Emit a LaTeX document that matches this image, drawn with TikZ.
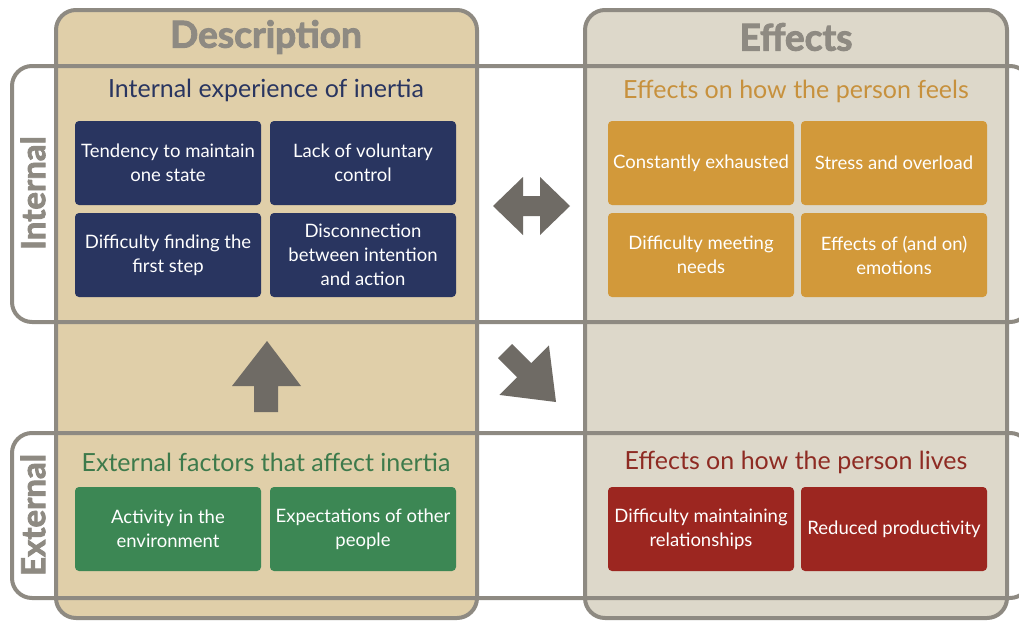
\documentclass[tikz,border=0pt]{standalone}
\usepackage{fontspec}
\setmainfont{Lato}
\newfontfamily\heavyfont[FakeBold=2.5]{Lato}
\begin{document}
\begin{tikzpicture}[x=1pt,y=-1pt]
\definecolor{frame}{HTML}{8E8A82}
\definecolor{descfill}{HTML}{E0CFA9}
\definecolor{efffill}{HTML}{DDD8CA}
\definecolor{navy}{HTML}{293560}
\definecolor{gold}{HTML}{D2993A}
\definecolor{goldtxt}{HTML}{C7913D}
\definecolor{grn}{HTML}{3C8754}
\definecolor{grntxt}{HTML}{3D7A4B}
\definecolor{red}{HTML}{9C2620}
\definecolor{redtxt}{HTML}{8E2B23}
\definecolor{arrowc}{HTML}{6F6B65}
\tikzset{
  colbox/.style={draw=frame, line width=4pt, rounded corners=20pt},
  rowbox/.style={draw=frame, line width=4pt, rounded corners=20pt},
  header/.style={text=frame, font=\heavyfont\fontsize{37}{37}\selectfont\bfseries},
  side/.style={text=frame, font=\heavyfont\fontsize{33}{33}\selectfont\bfseries, rotate=90},
  title/.style={font=\fontsize{25}{25}\selectfont},
  item/.style={rounded corners=4pt, minimum width=186pt, minimum height=84pt,
    text=white, align=center, inner sep=0pt, font=\fontsize{18.5}{24}\selectfont},
  bigarrow/.style={fill=arrowc, draw=none}
}
\useasboundingbox (0,0) rectangle (1019,621);
\fill[white] (0,0) rectangle (1019,621);
% columns
\draw[colbox, fill=descfill] (56,10) rectangle (477,618);
\draw[colbox, fill=efffill] (585,10) rectangle (1007,618);
% rows
\draw[rowbox] (12,66) rectangle (1030,322);
\draw[rowbox] (12,433) rectangle (1030,598);
% headers
\node[header] (hdesc) at (266,37) {Description};
\node[header] (heff) at (796,37) {Effects};
\node[side] (lint) at (33,193) {Internal};
\node[side] (lext) at (33,515) {External};
% titles
\node[title, text=navy] (t1) at (266,90) {Internal experience of inertia};
\node[title, text=goldtxt] (t2) at (796,91) {Effects on how the person feels};
\node[title, text=grntxt] (t3) at (266,462) {External factors that affect inertia};
\node[title, text=redtxt] (t4) at (796,462) {Effects on how the person lives};
% internal description boxes
\node[item, fill=navy] (a1) at (168,163) {Tendency to maintain\\one state};
\node[item, fill=navy] (a2) at (363,163) {Lack of voluntary\\control};
\node[item, fill=navy] (a3) at (168,255) {Difficulty finding the\\first step};
\node[item, fill=navy] (a4) at (363,255) {Disconnection\\between intention\\and action};
% feels boxes
\node[item, fill=gold] (b1) at (701,163) {Constantly exhausted};
\node[item, fill=gold] (b2) at (894,163) {Stress and overload};
\node[item, fill=gold] (b3) at (701,255) {Difficulty meeting\\needs};
\node[item, fill=gold] (b4) at (894,255) {Effects of (and on)\\emotions};
% external boxes
\node[item, fill=grn] (c1) at (168,529) {Activity in the\\environment};
\node[item, fill=grn] (c2) at (363,529) {Expectations of other\\people};
% lives boxes
\node[item, fill=red] (d1) at (701,529) {Difficulty maintaining\\relationships};
\node[item, fill=red] (d2) at (894,529) {Reduced productivity};
% arrows
\fill[bigarrow] (493,206) -- (523,177) -- (523,196) -- (540,196) -- (540,177) -- (570,206)
  -- (540,235) -- (540,216) -- (523,216) -- (523,235) -- cycle;
\fill[bigarrow] (267,341) -- (301,386) -- (278,386) -- (278,412) -- (254,412) -- (254,386) -- (232,386) -- cycle;
\begin{scope}[shift={(556,402)}, rotate=-45]
\fill[bigarrow] (0,0) -- (-45,35) -- (-45,10) -- (-72,10) -- (-72,-10) -- (-45,-10) -- (-45,-35) -- cycle;
\end{scope}
\end{tikzpicture}
\end{document}
